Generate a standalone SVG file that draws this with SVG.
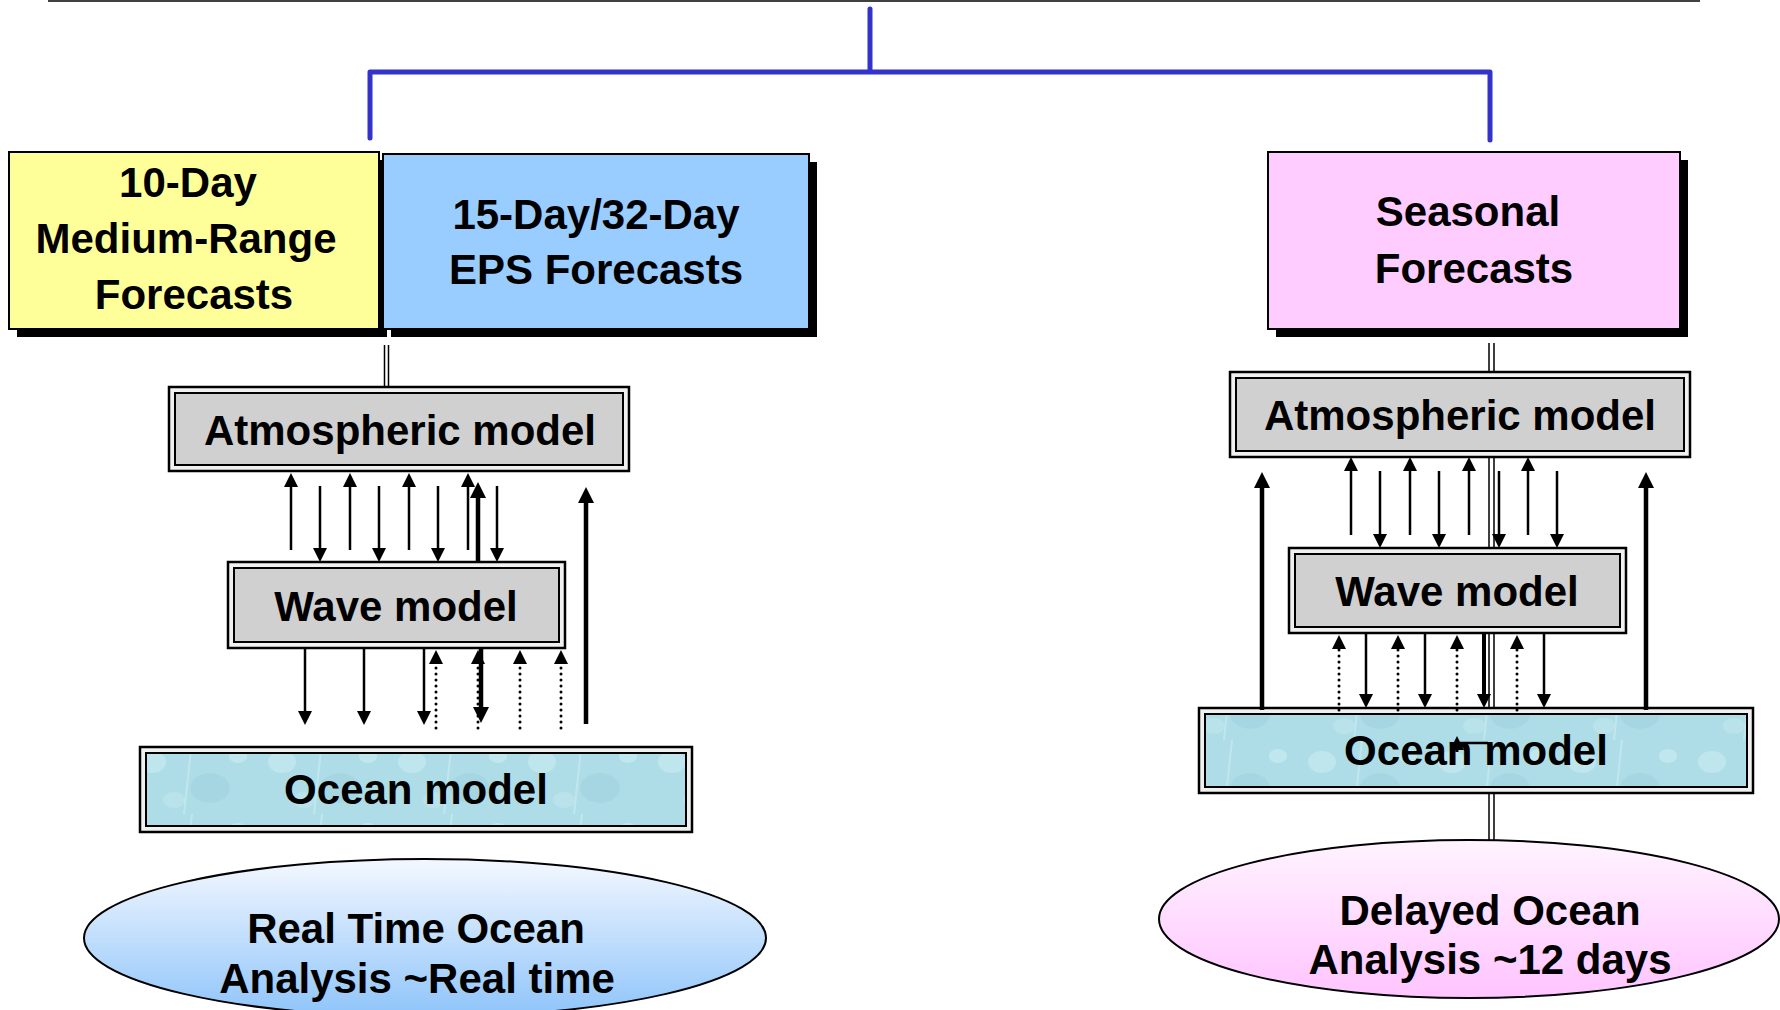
<svg xmlns="http://www.w3.org/2000/svg" width="1780" height="1010" viewBox="0 0 1780 1010">
<style>
text{font-family:"Liberation Sans",Arial,sans-serif;font-weight:bold;font-size:42px;fill:#000;text-anchor:middle}
.box{stroke:#000;stroke-width:2}
.shadow{fill:#000}
.outer{fill:#F0F0F0;stroke:#000;stroke-width:2.5}
.inner{fill:#D0D0D0;stroke:#000;stroke-width:2}
.innerO{fill:url(#water);stroke:#000;stroke-width:2}
.blue{fill:none;stroke:#3333CC;stroke-width:5;stroke-linecap:round;stroke-linejoin:round}
.dbl{stroke:#000;stroke-width:1.5}
.thin{stroke:#000;stroke-width:2.5;fill:none;marker-end:url(#ah)}
.thick{stroke:#000;stroke-width:4.5;fill:none;marker-end:url(#ahT)}
.dot{stroke:#000;stroke-width:3;stroke-dasharray:0 6;stroke-linecap:round;fill:none;marker-end:url(#ah)}
</style>
<defs>
<marker id="ah" viewBox="0 0 14 14" refX="1" refY="7" markerWidth="14" markerHeight="14" markerUnits="userSpaceOnUse" orient="auto"><path d="M0,0 L14,7 L0,14 z" fill="#000"/></marker>
<marker id="ahT" viewBox="0 0 16 16" refX="1" refY="8" markerWidth="16" markerHeight="16" markerUnits="userSpaceOnUse" orient="auto"><path d="M0,0 L16,8 L0,16 z" fill="#000"/></marker>
<linearGradient id="gBlue" x1="0" y1="0" x2="0" y2="1"><stop offset="0" stop-color="#F4F8FF"/><stop offset="1" stop-color="#8EC4FA"/></linearGradient>
<linearGradient id="gPink" x1="0" y1="0" x2="0" y2="1"><stop offset="0" stop-color="#FFF4FF"/><stop offset="1" stop-color="#FFC4FF"/></linearGradient>
<pattern id="water" width="130" height="74" patternUnits="userSpaceOnUse">
<rect width="130" height="74" fill="#AEDDE7"/>
<ellipse cx="22" cy="22" rx="14" ry="11" fill="#C9EDF2" opacity="0.6"/>
<ellipse cx="80" cy="48" rx="20" ry="15" fill="#9BD0DD" opacity="0.5"/>
<ellipse cx="108" cy="16" rx="9" ry="7" fill="#CDEFF3" opacity="0.6"/>
<ellipse cx="44" cy="60" rx="11" ry="8" fill="#BFE6EE" opacity="0.6"/>
<path d="M62,0 L54,74" stroke="#D2F0F4" stroke-width="2" opacity="0.5"/>
</pattern>
</defs>

<line x1="48" y1="1" x2="1700" y2="1" stroke="#000" stroke-width="1.5"/>

<g id="n-10day">
<rect class="shadow" x="17" y="160" width="370" height="177"/>
<rect class="box" x="9" y="152" width="370" height="177" fill="#FFFF99"/>
<text x="188" y="197">10-Day</text>
<text x="186" y="253">Medium-Range</text>
<text x="194" y="309">Forecasts</text>
</g>
<g id="n-eps">
<rect class="shadow" x="391" y="162" width="426" height="175"/>
<rect class="box" x="383" y="154" width="426" height="175" fill="#99CCFF"/>
<text x="596" y="229">15-Day/32-Day</text>
<text x="596" y="284">EPS Forecasts</text>
</g>
<g id="n-seasonal">
<rect class="shadow" x="1276" y="160" width="412" height="177"/>
<rect class="box" x="1268" y="152" width="412" height="177" fill="#FFCCFF"/>
<text x="1468" y="226">Seasonal</text>
<text x="1474" y="283">Forecasts</text>
</g>

<g id="n-atm-left">
<rect class="outer" x="169" y="387" width="460" height="84"/>
<rect class="inner" x="175" y="393" width="448" height="72"/>
<text x="400" y="445">Atmospheric model</text>
</g>
<g id="n-wave-left">
<rect class="outer" x="228" y="562" width="337" height="86"/>
<rect class="inner" x="234" y="568" width="325" height="74"/>
<text x="396" y="621">Wave model</text>
</g>
<g id="n-ocean-left">
<rect class="outer" x="140" y="747" width="552" height="85"/>
<rect class="innerO" x="146" y="753" width="540" height="73"/>
<text x="416" y="804">Ocean model</text>
</g>
<g id="n-rt-analysis">
<ellipse cx="425" cy="938" rx="341" ry="79" fill="url(#gBlue)" stroke="#000" stroke-width="2"/>
<text x="416" y="943">Real Time Ocean</text>
<text x="417" y="993">Analysis ~Real time</text>
</g>

<g id="n-atm-right">
<rect class="outer" x="1230" y="372" width="460" height="85"/>
<rect class="inner" x="1236" y="378" width="448" height="73"/>
<text x="1460" y="430">Atmospheric model</text>
</g>
<g id="n-wave-right">
<rect class="outer" x="1289" y="548" width="337" height="85"/>
<rect class="inner" x="1295" y="554" width="325" height="73"/>
<text x="1457" y="606">Wave model</text>
</g>
<g id="n-ocean-right">
<rect class="outer" x="1199" y="708" width="554" height="85"/>
<rect class="innerO" x="1205" y="714" width="542" height="73"/>
<text x="1476" y="765">Ocean model</text>
</g>
<g id="n-delayed-analysis">
<ellipse cx="1469" cy="919" rx="310" ry="79" fill="url(#gPink)" stroke="#000" stroke-width="2"/>
<text x="1490" y="925">Delayed Ocean</text>
<text x="1490" y="974">Analysis ~12 days</text>
</g>

<g id="connectors">
<path class="blue" d="M870,9 V72 M370,138 V72 H1490 V140"/>
<path class="dbl" d="M384.5,345 V387 M388.5,345 V387"/>
<path class="dbl" d="M1489,343 V372 M1494,343 V372 M1489,457 V548 M1494,457 V548 M1489,633 V708 M1494,633 V708 M1489,793 V840 M1494,793 V840"/>
<!-- left atm <-> wave -->
<line class="thin" x1="291" y1="550" x2="291" y2="486"/>
<line class="thin" x1="350" y1="550" x2="350" y2="486"/>
<line class="thin" x1="409" y1="550" x2="409" y2="486"/>
<line class="thin" x1="468" y1="550" x2="468" y2="486"/>
<line class="thin" x1="320" y1="486" x2="320" y2="549"/>
<line class="thin" x1="379" y1="486" x2="379" y2="549"/>
<line class="thin" x1="438" y1="486" x2="438" y2="549"/>
<line class="thin" x1="497" y1="486" x2="497" y2="549"/>
<line class="thick" x1="478" y1="562" x2="478" y2="497"/>
<line class="thick" x1="586" y1="724" x2="586" y2="502"/>
<!-- left wave <-> ocean -->
<line class="thin" x1="305" y1="648" x2="305" y2="712"/>
<line class="thin" x1="364" y1="648" x2="364" y2="712"/>
<line class="thin" x1="424" y1="648" x2="424" y2="712"/>
<line class="thick" x1="481" y1="647" x2="481" y2="708"/>
<line class="dot" x1="436" y1="728" x2="436" y2="663"/>
<line class="dot" x1="478" y1="728" x2="478" y2="663"/>
<line class="dot" x1="520" y1="728" x2="520" y2="663"/>
<line class="dot" x1="561" y1="728" x2="561" y2="663"/>
<!-- right atm <-> wave -->
<line class="thin" x1="1351" y1="535" x2="1351" y2="470"/>
<line class="thin" x1="1410" y1="535" x2="1410" y2="470"/>
<line class="thin" x1="1469" y1="535" x2="1469" y2="470"/>
<line class="thin" x1="1528" y1="535" x2="1528" y2="470"/>
<line class="thin" x1="1380" y1="471" x2="1380" y2="535"/>
<line class="thin" x1="1439" y1="471" x2="1439" y2="535"/>
<line class="thin" x1="1499" y1="471" x2="1499" y2="535"/>
<line class="thin" x1="1557" y1="471" x2="1557" y2="535"/>
<line class="thick" x1="1262" y1="710" x2="1262" y2="487"/>
<line class="thick" x1="1646" y1="710" x2="1646" y2="487"/>
<!-- right wave <-> ocean -->
<line class="dot" x1="1339" y1="710" x2="1339" y2="648"/>
<line class="dot" x1="1398" y1="710" x2="1398" y2="648"/>
<line class="dot" x1="1457" y1="710" x2="1457" y2="648"/>
<line class="dot" x1="1517" y1="710" x2="1517" y2="648"/>
<line class="thin" x1="1366" y1="633" x2="1366" y2="695"/>
<line class="thin" x1="1425" y1="633" x2="1425" y2="695"/>
<line class="thin" x1="1544" y1="633" x2="1544" y2="695"/>
<line class="thin" style="stroke-width:4" x1="1484" y1="633" x2="1484" y2="695"/>
<path d="M1488,743 H1457 V752" stroke="#000" stroke-width="2.5" fill="none"/>
<line class="thin" x1="1457" y1="752" x2="1457" y2="749"/>
</g>
</svg>
